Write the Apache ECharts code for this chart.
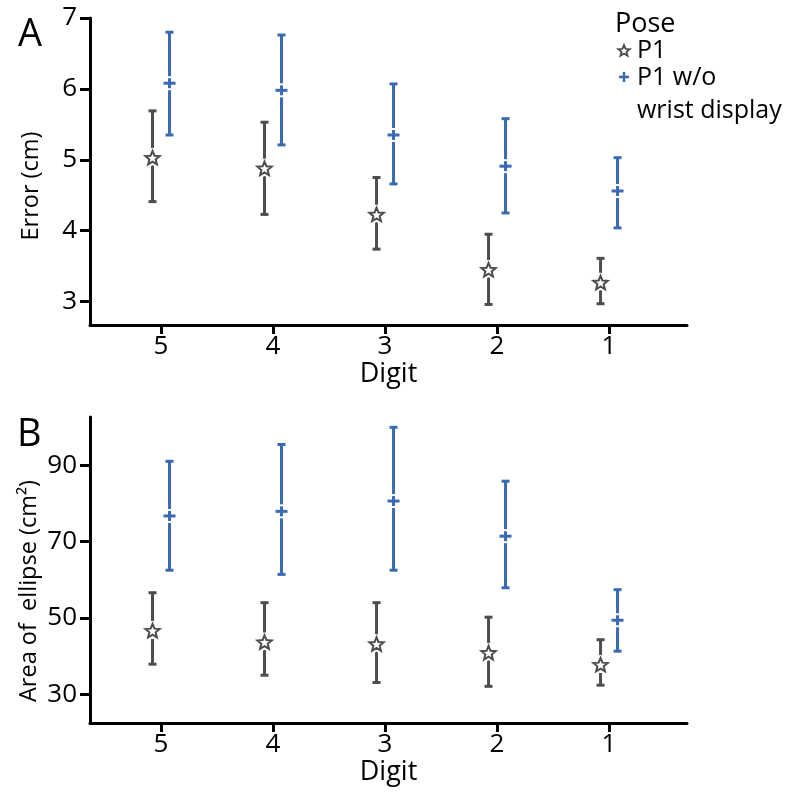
<!DOCTYPE html>
<html>
<head>
<meta charset="utf-8">
<script src="https://cdn.jsdelivr.net/npm/echarts@6/dist/echarts.min.js"></script>
<style>
html,body{margin:0;padding:0;background:#fff;}
#c{width:787px;height:792px;}
</style>
</head>
<body>
<div id="c"></div>
<script>
// ---- data ----
var digits = [5, 4, 3, 2, 1];
var digitTicks = [1, 2, 3, 4, 5];
var errorTicks = [3, 4, 5, 6, 7];
var areaTicks = [30, 50, 70, 90];

var errP1Mean = [5.02, 4.87, 4.22, 3.44, 3.26];
var errP1Lo   = [4.41, 4.23, 3.74, 2.96, 2.97];
var errP1Hi   = [5.69, 5.53, 4.75, 3.95, 3.61];
var errWoMean = [6.08, 5.98, 5.35, 4.91, 4.56];
var errWoLo   = [5.35, 5.21, 4.66, 4.25, 4.04];
var errWoHi   = [6.80, 6.76, 6.07, 5.58, 5.03];

var areaP1Mean = [46.5, 43.5, 43.0, 40.7, 37.6];
var areaP1Lo   = [37.9, 35.0, 33.1, 32.1, 32.4];
var areaP1Hi   = [56.6, 54.0, 54.0, 50.2, 44.3];
var areaWoMean = [76.7, 77.9, 80.6, 71.4, 49.4];
var areaWoLo   = [62.5, 61.4, 62.5, 57.9, 41.3];
var areaWoHi   = [91.0, 95.4, 99.9, 85.8, 57.4];

var seriesNames = ['P1', 'P1 w/o wrist display'];
var legendTitle = 'Pose';

// ---- styling ----
var FONT = 'Open Sans';
var GRAY = '#4d4d4d';
var BLUE = '#3a6ab3';

function rows(m, lo, hi) {
  return digits.map(function (d, i) { return [d, m[i], lo[i], hi[i]]; });
}

function starPoints(cx, cy, R, r) {
  var pts = [];
  for (var k = 0; k < 10; k++) {
    var a = -Math.PI / 2 + k * Math.PI / 5;
    var rad = k % 2 === 0 ? R : r;
    pts.push([cx + rad * Math.cos(a), cy + rad * Math.sin(a)]);
  }
  return pts;
}

function makeRender(offset, color, kind) {
  return function (params, api) {
    var pM = api.coord([api.value(0), api.value(1)]);
    var pL = api.coord([api.value(0), api.value(2)]);
    var pH = api.coord([api.value(0), api.value(3)]);
    var x = pM[0] + offset, yM = pM[1], yL = pL[1], yH = pH[1];
    var ls = { stroke: color, lineWidth: 3 };
    var ch = [
      { type: 'line', shape: { x1: x, y1: yH, x2: x, y2: yL }, style: ls },
      { type: 'line', shape: { x1: x - 4, y1: yH, x2: x + 4, y2: yH }, style: ls },
      { type: 'line', shape: { x1: x - 4, y1: yL, x2: x + 4, y2: yL }, style: ls }
    ];
    if (kind === 'star') {
      ch.push({ type: 'polygon', shape: { points: starPoints(x, yM, 7.5, 3.3) },
        style: { fill: '#fff', stroke: '#fff', lineWidth: 6, lineJoin: 'round' } });
      ch.push({ type: 'polygon', shape: { points: starPoints(x, yM, 7.5, 3.3) },
        style: { fill: '#fff', stroke: color, lineWidth: 2 } });
    } else {
      ch.push({ type: 'line', shape: { x1: x, y1: yM - 7, x2: x, y2: yM + 7 },
        style: { stroke: '#fff', lineWidth: 5 } });
      ch.push({ type: 'line', shape: { x1: x - 6, y1: yM, x2: x + 6, y2: yM }, style: ls });
      ch.push({ type: 'line', shape: { x1: x, y1: yM - 5, x2: x, y2: yM + 5 }, style: ls });
    }
    return { type: 'group', children: ch };
  };
}

function xAxisDef(gi) {
  return {
    gridIndex: gi, type: 'value', inverse: true, min: 0.304, max: 5.634,
    name: 'Digit', nameLocation: 'middle', nameGap: 33,
    nameTextStyle: { fontFamily: FONT, fontSize: 27, color: '#000', verticalAlign: 'top' },
    axisLine: { lineStyle: { color: '#000', width: 3 } },
    axisTick: { show: true, length: 9, lineStyle: { color: '#000', width: 3 }, customValues: digitTicks },
    axisLabel: { fontFamily: FONT, fontSize: 26, color: '#000', margin: 9, customValues: digitTicks },
    splitLine: { show: false }
  };
}

function yAxisDef(gi, min, max, ticks) {
  return {
    gridIndex: gi, type: 'value', min: min, max: max,
    axisLine: { show: true, lineStyle: { color: '#000', width: 3 } },
    axisTick: { show: true, length: 10, lineStyle: { color: '#000', width: 3 }, customValues: ticks },
    axisLabel: { fontFamily: FONT, fontSize: 26, color: '#000', margin: 13, customValues: ticks },
    splitLine: { show: false }
  };
}

var chart = echarts.init(document.getElementById('c'), null, { renderer: 'canvas' });
chart.setOption({
  animation: false,
  backgroundColor: '#fff',
  grid: [
    { left: 90, top: 18, width: 597, height: 307 },
    { left: 90, top: 417, width: 597, height: 306 }
  ],
  xAxis: [xAxisDef(0), xAxisDef(1)],
  yAxis: [yAxisDef(0, 2.67, 7, errorTicks), yAxisDef(1, 22.5, 102.6, areaTicks)],
  series: [
    { type: 'custom', name: seriesNames[0], xAxisIndex: 0, yAxisIndex: 0, renderItem: makeRender(-8.5, GRAY, 'star'),
      encode: { x: 0, y: [1, 2, 3] }, data: rows(errP1Mean, errP1Lo, errP1Hi), clip: false },
    { type: 'custom', name: seriesNames[1], xAxisIndex: 0, yAxisIndex: 0, renderItem: makeRender(8.5, BLUE, 'plus'),
      encode: { x: 0, y: [1, 2, 3] }, data: rows(errWoMean, errWoLo, errWoHi), clip: false },
    { type: 'custom', name: seriesNames[0], xAxisIndex: 1, yAxisIndex: 1, renderItem: makeRender(-8.5, GRAY, 'star'),
      encode: { x: 0, y: [1, 2, 3] }, data: rows(areaP1Mean, areaP1Lo, areaP1Hi), clip: false },
    { type: 'custom', name: seriesNames[1], xAxisIndex: 1, yAxisIndex: 1, renderItem: makeRender(8.5, BLUE, 'plus'),
      encode: { x: 0, y: [1, 2, 3] }, data: rows(areaWoMean, areaWoLo, areaWoHi), clip: false }
  ],
  graphic: [
    { type: 'text', left: 18, top: 16, style: { text: 'A', fontFamily: FONT, fontSize: 38, fill: '#000' } },
    { type: 'text', left: 17, top: 416, style: { text: 'B', fontFamily: FONT, fontSize: 38, fill: '#000' } },
    { type: 'text', x: 31, y: 186, rotation: Math.PI / 2,
      style: { text: 'Error (cm)', fontFamily: FONT, fontSize: 23.5, fill: '#000', align: 'center', verticalAlign: 'middle' } },
    { type: 'text', x: 29, y: 591, rotation: Math.PI / 2,
      style: { text: 'Area of  ellipse (cm²)', fontFamily: FONT, fontSize: 23.5, fill: '#000', align: 'center', verticalAlign: 'middle' } },
    // legend
    { type: 'text', x: 615, y: 24, style: { text: legendTitle, fontFamily: FONT, fontSize: 27, fill: '#000', verticalAlign: 'middle' } },
    { type: 'polygon', shape: { points: starPoints(624, 51, 6, 2.6) }, style: { fill: '#fff', stroke: GRAY, lineWidth: 1.8 } },
    { type: 'text', x: 637, y: 51, style: { text: 'P1', fontFamily: FONT, fontSize: 25, fill: '#000', verticalAlign: 'middle' } },
    { type: 'line', shape: { x1: 619, y1: 77, x2: 629, y2: 77 }, style: { stroke: BLUE, lineWidth: 2.5 } },
    { type: 'line', shape: { x1: 624, y1: 72, x2: 624, y2: 82 }, style: { stroke: BLUE, lineWidth: 2.5 } },
    { type: 'text', x: 637, y: 61, style: { text: 'P1 w/o\nwrist display', fontFamily: FONT, fontSize: 25, lineHeight: 33, fill: '#000', verticalAlign: 'top' } }
  ]
});
</script>
</body>
</html>
